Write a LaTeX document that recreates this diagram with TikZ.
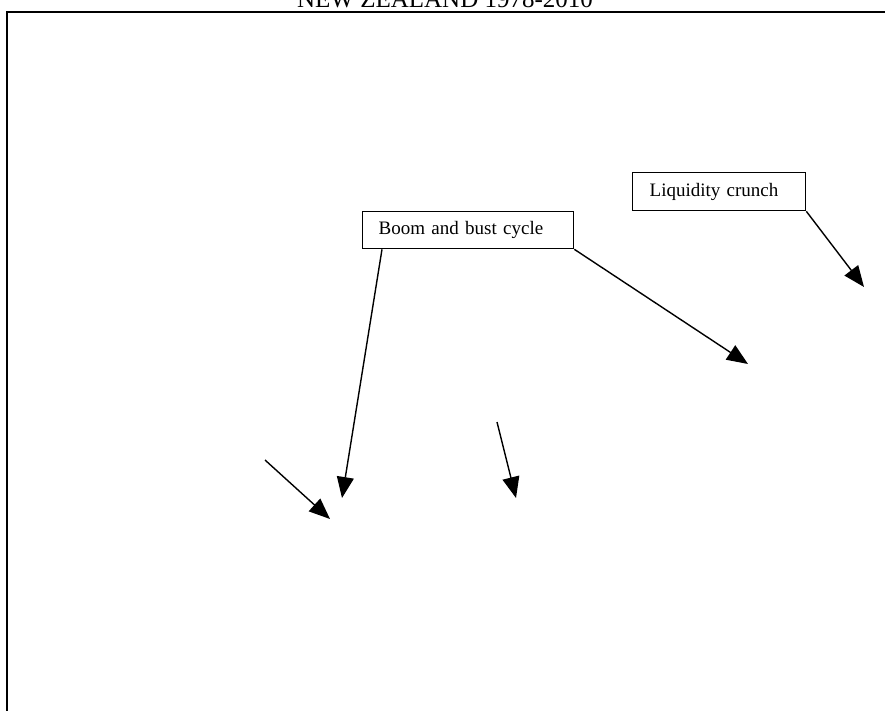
\documentclass[tikz,border=0pt]{standalone}
\usepackage{fontspec}
\setmainfont{Liberation Serif}
\usetikzlibrary{arrows.meta}
\begin{document}
\begin{tikzpicture}[x=1pt,y=-1pt,
  labelbox/.style={draw=black,line width=1.3pt,anchor=north west,align=left,
    font=\fontsize{19}{23}\selectfont,inner ysep=0pt},
  pointer/.style={draw=black,line width=1.4pt,-{Triangle[length=21pt,width=17pt]}},
  framing/.style={draw=black,line width=2.2pt}]
\useasboundingbox (0,0) rectangle (885,711);
% page title, partly above the frame
\node[font=\fontsize{25}{30}\selectfont,anchor=base] (title) at (445,7.5) {NEW ZEALAND 1978-2010};
% chart frame (left and top edges)
\coordinate (frameTL) at (7,12);
\draw[framing] (7,740) -- (frameTL) -- (900,12);
% annotation boxes
\node[labelbox,minimum height=37pt,text width=179pt,inner xsep=16pt] (boom) at (362,211) {Boom and bust cycle};
\node[labelbox,minimum height=38pt,text width=139pt,inner xsep=17pt] (crunch) at (632,172) {Liquidity crunch};
% arrow targets
\coordinate (tipCrunch) at (864,287);
\coordinate (tipBoomR) at (748,364);
\coordinate (tipBoomL) at (342,498);
\coordinate (freeAstart) at (265,460);
\coordinate (freeAtip) at (330,519);
\coordinate (freeBstart) at (497,422);
\coordinate (freeBtip) at (516,498);
% arrows
\draw[pointer] (crunch.south east) -- (tipCrunch);
\draw[pointer] (boom.south east) -- (tipBoomR);
\draw[pointer] ([xshift=20pt]boom.south west) -- (tipBoomL);
\draw[pointer] (freeAstart) -- (freeAtip);
\draw[pointer] (freeBstart) -- (freeBtip);
\end{tikzpicture}
\end{document}
